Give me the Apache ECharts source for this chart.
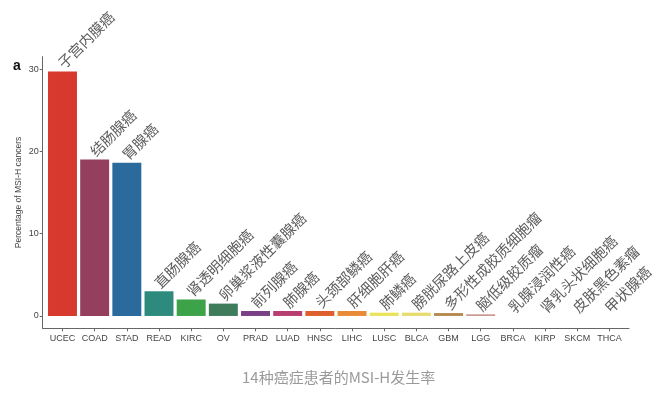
<!DOCTYPE html>
<html>
<head>
<meta charset="utf-8">
<script src="https://cdn.jsdelivr.net/npm/echarts@6/dist/echarts.min.js"></script>
<style>html,body{margin:0;padding:0;background:#fff}#c{width:666px;height:395px}</style>
</head>
<body>
<div id="c"></div>
<script>
var categories = ['UCEC','COAD','STAD','READ','KIRC','OV','PRAD','LUAD','HNSC','LIHC','LUSC','BLCA','GBM','LGG','BRCA','KIRP','SKCM','THCA'];
var values = [29.7, 19.0, 18.6, 3.0, 2.0, 1.5, 0.6, 0.6, 0.6, 0.6, 0.4, 0.4, 0.35, 0.2, 0, 0, 0, 0];
var cnNames = ['子宫内膜癌','结肠腺癌','胃腺癌','直肠腺癌','肾透明细胞癌','卵巢浆液性囊腺癌','前列腺癌','肺腺癌','头颈部鳞癌','肝细胞肝癌','肺鳞癌','膀胱尿路上皮癌','多形性成胶质细胞瘤','脑低级胶质瘤','乳腺浸润性癌','肾乳头状细胞癌','皮肤黑色素瘤','甲状腺癌'];
var yTicks = [0, 10, 20, 30];
var palette = ['#d8392f','#953f5e','#2a6a9c','#2e8a7c','#3da348','#3f7c5c','#7a3f86','#b83e72','#df5e2e','#e88a36','#ebe35a','#e8dd6c','#b58a4e','#c8958a','#999','#999','#999','#999'];

var chart = echarts.init(document.getElementById('c'));
var fontLatin = 'Liberation Sans, Arial, sans-serif';
chart.setOption({
  animation: false,
  title: [
    {text: '14种癌症患者的MSI-H发生率', left: 237, top: 365,
     textStyle: {fontSize: 15, fontWeight: 'normal', color: '#9a9a9a', fontFamily: 'Noto Sans CJK SC'}},
    {text: 'a', left: 8, top: 54,
     textStyle: {fontSize: 14, fontWeight: 'bold', color: '#111', fontFamily: fontLatin}}
  ],
  grid: [
    {left: 46.4, right: 40.5, top: 56.7, bottom: 66.7},
    {left: 42.7, right: 37, top: 56.7, bottom: 66.7}
  ],
  xAxis: [
    {type: 'category', gridIndex: 0, data: categories,
     axisLine: {show: false, onZero: false},
     axisTick: {show: true, alignWithLabel: true, length: 3, lineStyle: {color: '#666'}},
     axisLabel: {fontSize: 9, color: '#444', margin: 6, fontFamily: fontLatin, interval: 0}},
    {type: 'value', gridIndex: 1, min: 0, max: 1,
     axisLine: {show: true, onZero: false, lineStyle: {color: '#666', width: 1}},
     axisTick: {show: false}, axisLabel: {show: false}, splitLine: {show: false}}
  ],
  yAxis: [
    {type: 'value', gridIndex: 0, min: -1.5, max: 31.5, offset: 3.7,
     name: 'Percentage of MSI-H cancers', nameLocation: 'middle', nameRotate: 90, nameGap: 20,
     nameMoveOverlap: false,
     nameTextStyle: {fontSize: 8.5, color: '#444', fontFamily: fontLatin},
     axisLine: {show: true, lineStyle: {color: '#666'}},
     axisTick: {show: true, length: 3, customValues: yTicks, lineStyle: {color: '#666'}},
     axisLabel: {fontSize: 9, color: '#444', margin: 4, customValues: yTicks, fontFamily: fontLatin},
     splitLine: {show: false}},
    {type: 'value', gridIndex: 1, min: 0, max: 1, show: false}
  ],
  series: [{
    type: 'bar',
    xAxisIndex: 0, yAxisIndex: 0,
    barCategoryGap: '10%',
    data: values.map(function (v, i) {
      return {value: v, itemStyle: {color: palette[i]}};
    }),
    label: {
      show: true, position: 'top', distance: 8, rotate: 45, offset: [-3, 0],
      align: 'left', verticalAlign: 'middle',
      formatter: function (p) { return cnNames[p.dataIndex]; },
      fontSize: 14.5, color: '#5c5c5c', fontFamily: 'Noto Sans CJK SC'
    }
  }]
});
</script>
</body>
</html>
